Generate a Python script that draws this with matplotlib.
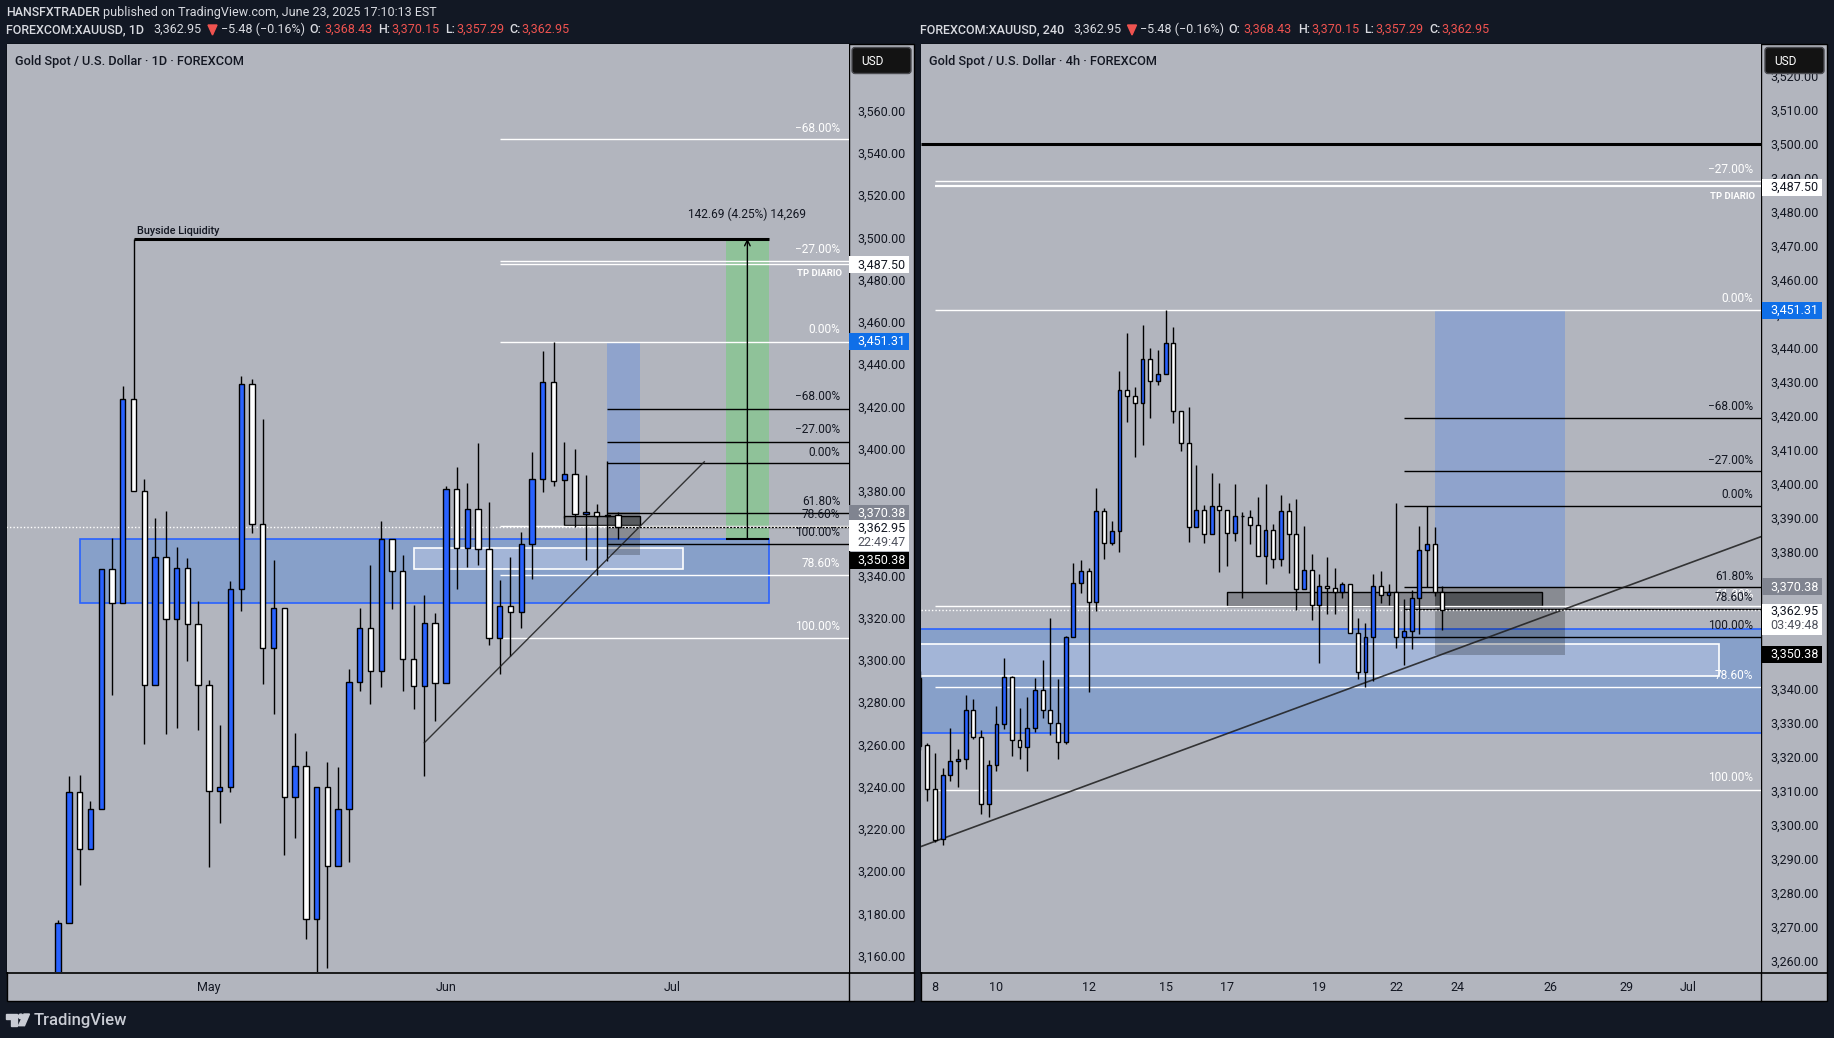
import matplotlib
matplotlib.use("Agg")
import matplotlib.pyplot as plt
from matplotlib.patches import Rectangle, FancyBboxPatch, Polygon, Circle

plt.rcParams['font.family'] = ['Roboto', 'DejaVu Sans']

W, H = 1834, 1038

#----- daily candles (left pane)
d_open = [3130.0, 3175.4, 3237.4, 3210.4, 3229.4, 3343.0, 3326.9, 3423.5, 3379.8, 3288.0,
          3348.7, 3319.3, 3343.5, 3316.8, 3288.0, 3238.2, 3239.8, 3333.5, 3430.6, 3364.3,
          3305.6, 3324.5, 3235.0, 3249.7, 3177.3, 3239.8, 3202.7, 3229.4, 3289.5, 3315.0,
          3294.7, 3357.2, 3342.1, 3300.4, 3287.6, 3317.4, 3289.0, 3380.9, 3352.9, 3371.4,
          3352.5, 3310.3, 3325.5, 3322.6, 3354.8, 3385.6, 3431.5, 3385.0, 3387.9, 3368.9,
          3370.2, 3368.0, 3368.43]
d_close = [3175.4, 3237.4, 3210.4, 3229.4, 3343.0, 3326.9, 3423.5, 3379.8, 3288.0, 3348.7,
           3319.3, 3343.5, 3316.8, 3288.0, 3238.2, 3239.8, 3333.5, 3430.6, 3364.3, 3305.6,
           3324.5, 3235.0, 3249.7, 3177.3, 3239.8, 3202.7, 3229.4, 3289.5, 3315.0, 3294.7,
           3357.2, 3342.1, 3300.4, 3287.6, 3317.4, 3289.0, 3380.9, 3352.9, 3371.4, 3352.5,
           3310.3, 3325.5, 3322.6, 3354.8, 3385.6, 3431.5, 3384.5, 3387.9, 3368.9, 3370.2,
           3368.0, 3368.5, 3362.95]
d_high = [3176.7, 3245.3, 3245.6, 3233.4, 3343.0, 3357.8, 3429.8, 3423.5, 3385.8, 3367.0,
          3370.3, 3353.4, 3348.4, 3328.0, 3290.3, 3269.3, 3337.3, 3434.5, 3433.0, 3414.2,
          3347.4, 3324.5, 3265.5, 3257.0, 3239.8, 3251.8, 3249.2, 3295.8, 3324.5, 3345.0,
          3365.7, 3357.2, 3349.8, 3325.8, 3330.8, 3322.2, 3382.5, 3391.5, 3383.9, 3402.8,
          3374.8, 3338.0, 3348.7, 3360.5, 3398.4, 3446.4, 3450.5, 3403.3, 3399.8, 3387.6,
          3374.0, 3394.2, 3370.15]
d_low = [3130.0, 3175.4, 3193.5, 3210.4, 3229.4, 3283.5, 3326.9, 3379.8, 3260.0, 3288.0,
         3265.0, 3267.7, 3299.4, 3267.0, 3202.2, 3223.0, 3237.7, 3323.4, 3360.2, 3288.7,
         3274.5, 3207.9, 3215.8, 3168.1, 3148.0, 3154.4, 3202.7, 3204.6, 3285.5, 3279.2,
         3287.0, 3323.9, 3285.5, 3276.9, 3245.3, 3271.3, 3289.0, 3333.4, 3343.8, 3345.0,
         3307.3, 3293.4, 3302.1, 3315.2, 3338.4, 3379.3, 3382.5, 3367.4, 3362.8, 3347.5,
         3340.3, 3346.9, 3357.29]

#----- 4h candles (right pane)
h_open = [3343.0, 3323.3, 3310.4, 3295.7, 3314.5, 3318.6, 3319.2, 3333.6, 3325.7, 3306.0,
          3317.5, 3329.5, 3343.3, 3324.8, 3322.7, 3328.3, 3339.5, 3333.6, 3329.8, 3324.2,
          3355.0, 3370.9, 3374.4, 3365.3, 3392.1, 3382.7, 3386.2, 3427.6, 3426.0, 3423.9,
          3436.7, 3430.2, 3432.3, 3441.4, 3421.4, 3412.0, 3387.3, 3392.3, 3385.3, 3393.5,
          3392.3, 3385.6, 3390.6, 3390.3, 3387.9, 3378.8, 3386.5, 3378.0, 3392.0, 3385.3,
          3369.1, 3374.7, 3364.5, 3370.0, 3369.4, 3368.2, 3370.6, 3356.2, 3344.7, 3355.0,
          3370.0, 3367.4, 3368.2, 3355.0, 3356.8, 3366.5, 3380.6, 3382.3, 3368.43]
h_close = [3323.2, 3310.4, 3295.6, 3314.5, 3318.6, 3319.2, 3333.6, 3325.7, 3306.0, 3317.5,
           3329.5, 3343.3, 3324.8, 3322.7, 3328.3, 3339.5, 3333.6, 3329.8, 3324.2, 3355.0,
           3370.9, 3374.4, 3365.3, 3392.1, 3382.7, 3386.2, 3427.6, 3426.0, 3423.9, 3436.7,
           3430.2, 3432.3, 3441.4, 3421.4, 3412.0, 3387.3, 3392.3, 3385.3, 3393.5, 3392.3,
           3385.6, 3390.6, 3390.5, 3387.9, 3378.8, 3386.5, 3378.0, 3392.0, 3385.3, 3369.1,
           3374.7, 3364.4, 3370.0, 3369.4, 3368.2, 3370.6, 3356.2, 3344.7, 3355.0, 3370.0,
           3367.4, 3368.2, 3355.0, 3356.8, 3366.5, 3380.6, 3382.3, 3368.2, 3362.95]
h_high = [3345.0, 3324.0, 3321.1, 3316.7, 3328.3, 3322.2, 3338.0, 3336.8, 3327.8, 3318.9,
          3334.9, 3348.9, 3343.7, 3334.2, 3337.5, 3343.1, 3348.3, 3360.6, 3342.7, 3355.4,
          3376.8, 3377.7, 3375.3, 3398.9, 3393.0, 3389.2, 3433.3, 3444.4, 3428.5, 3446.7,
          3439.9, 3439.4, 3451.2, 3446.2, 3421.4, 3422.6, 3405.5, 3393.8, 3403.2, 3400.3,
          3392.3, 3400.0, 3391.7, 3392.3, 3396.1, 3400.0, 3388.2, 3396.7, 3394.4, 3395.6,
          3387.6, 3379.4, 3373.5, 3378.5, 3375.3, 3371.2, 3370.6, 3360.6, 3359.1, 3373.5,
          3374.4, 3370.6, 3394.4, 3366.2, 3368.8, 3387.6, 3393.5, 3387.3, 3370.15]
h_low = [3322.0, 3307.0, 3295.0, 3293.9, 3312.7, 3310.9, 3316.2, 3325.0, 3303.0, 3302.1,
         3315.6, 3328.2, 3320.0, 3319.4, 3315.6, 3327.3, 3331.4, 3326.2, 3319.4, 3323.8,
         3355.0, 3367.9, 3338.8, 3362.6, 3377.9, 3382.0, 3380.0, 3418.1, 3408.1, 3411.6,
         3419.3, 3429.0, 3432.3, 3417.8, 3409.6, 3383.1, 3387.3, 3382.8, 3385.3, 3374.3,
         3375.8, 3383.4, 3366.4, 3382.5, 3378.8, 3370.8, 3375.5, 3375.8, 3374.0, 3362.9,
         3369.1, 3360.2, 3347.5, 3361.7, 3361.7, 3366.6, 3356.2, 3342.9, 3340.5, 3342.1,
         3365.2, 3364.4, 3352.0, 3347.0, 3351.7, 3356.1, 3369.7, 3367.2, 3357.29]

#----- axis labels
d_ticks = list(range(3160, 3561, 20))
h_ticks = list(range(3260, 3521, 10))
d_month_pos = [14, 36, 57]
d_month_lab = ["May", "Jun", "Jul"]
h_day_pos = [2, 10, 22, 32, 40, 52, 62, 70, 82, 92, 100]
h_day_lab = ["8", "10", "12", "15", "17", "19", "22", "24", "26", "29", "Jul"]

BG = "#b2b5be"
DARK = "#121824"
BLUE = "#2962ff"
ZONE = "#87a0c9"
LIGHT = "#a3b5d7"
SHADE = "#8fa3cc"
TXT = "#d8dae0"
RED = "#ef5350"
FS = 9


def pane(x0, x1, ymin, ymax, xmin, xmax):
    ax = fig.add_axes([x0 / W, 1 - 972 / H, (x1 - x0) / W, (972 - 43.5) / H], zorder=2)
    ax.set_facecolor(BG)
    ax.set_xlim(xmin, xmax)
    ax.set_ylim(ymin, ymax)
    for s in ax.spines.values():
        s.set_visible(False)
    ax.yaxis.tick_right()
    ax.tick_params(axis='y', length=0, pad=6.3, labelsize=FS, labelcolor="#131722")
    ax.tick_params(axis='x', length=0, pad=6.5, labelsize=FS, labelcolor="#131722")
    return ax


def candles(ax, o, c, hi, lo, width):
    for i in range(len(o)):
        up = c[i] > o[i]
        ax.vlines(i, lo[i], hi[i], color="black", lw=1.0, zorder=5)
        ax.bar(i, abs(c[i] - o[i]), bottom=min(o[i], c[i]), width=width,
               color=BLUE if up else "white", edgecolor="black", lw=1.0, zorder=6)


def zone(ax, xa, xb, ya, yb, face, edge="none", alpha=1, lw=1.2, z=1):
    ax.add_patch(Rectangle((xa, ya), xb - xa, yb - ya, facecolor=face, edgecolor=edge,
                           alpha=alpha, lw=lw, zorder=z))


def level(ax, xa, xb, y, color, lw=1.0, z=2):
    ax.hlines(y, xa, xb, color=color, lw=lw, zorder=z)


def t(x, y, s, color="#131722", size=FS, ha="left", weight="normal", **kw):
    ov.text(x, y, s, color=color, fontsize=size, ha=ha, va="center", fontweight=weight, **kw)


def ypx(ax, price):
    return H - ax.transData.transform((0, price))[1] + 1


def tag(ax, xa, xb, price, s, face, color, shift=0):
    y = ypx(ax, price) + shift
    ov.add_patch(Rectangle((xa, y - 8.5), xb - xa, 17, facecolor=face, edgecolor="none", zorder=5))
    t(xa + 8.5, y, s, color=color, zorder=6)


fig = plt.figure(figsize=(W / 100, H / 100), dpi=100, facecolor=DARK)

# fondo de paneles (incluye las escalas)
bg = fig.add_axes([0, 0, 1, 1], zorder=0)
bg.set_xlim(0, W)
bg.set_ylim(H, 0)
bg.axis("off")
bg.add_patch(Rectangle((6.5, 44), 907.5, 957, facecolor=BG, edgecolor="black", lw=1))
bg.add_patch(Rectangle((920.5, 44), 906.5, 957, facecolor=BG, edgecolor="black", lw=1))
bg.plot([848.6, 848.6], [44, 1001], color="black", lw=1)
bg.plot([1761.4, 1761.4], [44, 1001], color="black", lw=1)
bg.plot([6.5, 914], [972.5, 972.5], color="black", lw=1.2)
bg.plot([920.5, 1827], [972.5, 972.5], color="black", lw=1.2)

#----- panel izquierdo
ax1 = pane(6.5, 848.6, 3152.3, 3591.8, -4.8, 73.4)
ax1.set_yticks(d_ticks)
ax1.set_yticklabels([f"{v:,.2f}" for v in d_ticks])
ax1.set_xticks(d_month_pos)
ax1.set_xticklabels(d_month_lab)

zone(ax1, 2, 66, 3326.9, 3357.2, ZONE, BLUE)
zone(ax1, 33, 58, 3343.2, 3352.9, LIGHT, "white")
zone(ax1, 62, 66, 3357.4, 3499.4, "#8fc299")
zone(ax1, 51, 54, 3369.9, 3450.5, SHADE)
zone(ax1, 51, 54, 3349.7, 3369.9, "black", alpha=0.23, z=2)
zone(ax1, 47, 54, 3363.8, 3368.0, "black", alpha=0.25, z=2)
zone(ax1, 51, 54, 3363.8, 3368.0, "black", alpha=0.12, z=2)
ax1.add_patch(Rectangle((47, 3363.8), 7, 4.2, fill=False, edgecolor="black", lw=1, zorder=2))

for y in [3546.5, 3488.7, 3487.2, 3450.5, 3363.4, 3340.1, 3310.3]:
    level(ax1, 41, 73.4, y, "white", z=3)
for y in [3419.0, 3403.4, 3393.0, 3369.4, 3363.0, 3354.8]:
    level(ax1, 51, 73.4, y, "black", z=3)

level(ax1, 7, 66, 3499.4, "black", lw=2.2, z=7)
ax1.vlines(7, 3423.5, 3499.4, color="black", lw=1, zorder=4)
level(ax1, 62, 66, 3357.4, "black", lw=1.5, z=4)
ax1.annotate("", xy=(64, 3499.4), xytext=(64, 3357.4), zorder=7,
             arrowprops=dict(arrowstyle="->", color="black", lw=1, shrinkA=0, shrinkB=0))
ax1.plot([34, 60], [3260.8, 3393.8], color="#1c1c1c", lw=1, alpha=0.85, zorder=7)
ax1.hlines(3362.95, -4.8, 73.4, color="white", lw=1, linestyles=(0, (1, 1.5)), zorder=4)
candles(ax1, d_open, d_close, d_high, d_low, 0.5)

#----- panel derecho
ax2 = pane(920.5, 1761.4, 3256.7, 3529.4, 0.12, 109.5)
ax2.set_yticks(h_ticks)
ax2.set_yticklabels([f"{v:,.2f}" for v in h_ticks])
ax2.set_xticks(h_day_pos)
ax2.set_xticklabels(h_day_lab)

zone(ax2, -3, 115, 3327.0, 3357.3, ZONE, BLUE)
zone(ax2, -3, 104, 3343.6, 3352.9, LIGHT, "white")
zone(ax2, 67, 84, 3369.9, 3451.1, SHADE)
zone(ax2, 67, 84, 3349.7, 3369.9, "black", alpha=0.23, z=2)
zone(ax2, 40, 81, 3364.3, 3368.2, "black", alpha=0.25, z=2)
zone(ax2, 67, 81, 3364.3, 3368.2, "black", alpha=0.2, z=2)
ax2.add_patch(Rectangle((40, 3364.3), 41, 3.9, fill=False, edgecolor="black", lw=1, zorder=2))

for y in [3489.0, 3451.1, 3364.1, 3340.3, 3310.3]:
    level(ax2, 2, 109.5, y, "white", z=3)
level(ax2, 2, 109.5, 3487.5, "white", lw=1.6, z=3)
for y in [3419.3, 3403.8, 3393.5, 3369.7, 3363.2, 3355.0]:
    level(ax2, 63, 109.5, y, "black", z=3)
level(ax2, 0.12, 109.5, 3500, "black", lw=2.2, z=3)
ax2.plot([0.12, 109.5], [3293.5, 3384.6], color="#1c1c1c", lw=1.2, alpha=0.85, zorder=4)
ax2.hlines(3362.95, 0.12, 109.5, color="white", lw=1, linestyles=(0, (1, 1.5)), zorder=4)
candles(ax2, h_open, h_close, h_high, h_low, 0.5)

#----- textos y etiquetas sobre todo
ov = fig.add_axes([0, 0, 1, 1], zorder=10)
ov.set_xlim(0, W)
ov.set_ylim(H, 0)
ov.axis("off")
ov.patch.set_alpha(0)

t(6.5, 12.7, "HANSFXTRADER", color=TXT, size=8.9, weight="medium")
t(102.7, 12.7, "published on TradingView.com, June 23, 2025 17:10:13 EST", color=TXT, size=9.0)


def header(off, name, o_shift):
    t(off + 6.5, 29.7, name, color=TXT, size=9.0, weight="medium")
    t(off + 153.8 + o_shift, 29.7, "3,362.95", color=TXT, size=9.0)
    x = off + 208 + o_shift
    ov.add_patch(Polygon([(x, 25), (x + 9, 25), (x + 4.5, 35)], color=RED))
    t(off + 221 + o_shift, 29.7, "\u22125.48 (\u22120.16%)", color=TXT, size=9.0)
    for lab, lx, val, vx in [("O:", 309, "3,368.43", 324), ("H:", 378.5, "3,370.15", 391.4),
                             ("L:", 444.8, "3,357.29", 456), ("C:", 509.4, "3,362.95", 521.7)]:
        t(off + lx + o_shift, 29.7, lab, color=TXT, size=9.0, weight="medium")
        t(off + vx + o_shift, 29.7, val, color=RED, size=9.0)


header(0, "FOREXCOM:XAUUSD, 1D", 0)
header(914, "FOREXCOM:XAUUSD, 240", 5.5)

t(14.7, 61.3, "Gold Spot / U.S. Dollar \u00b7 1D \u00b7 FOREXCOM", size=9.2, weight="medium")
t(928.7, 61.3, "Gold Spot / U.S. Dollar \u00b7 4h \u00b7 FOREXCOM", size=9.2, weight="medium")
t(136.7, 230.7, "Buyside Liquidity", size=7.8, weight="medium")
t(747, 214.7, "142.69 (4.25%) 14,269", size=8.6, ha="center")
t(840.4, 128, "\u221268.00%", color="white", size=8.6, ha="right")
t(840.4, 249.7, "\u221227.00%", color="white", size=8.6, ha="right")
t(842, 273.7, "TP DIARIO", color="white", size=6.8, ha="right", weight="bold")
t(840.4, 329.7, "0.00%", color="white", size=8.6, ha="right")
t(840.4, 563.3, "78.60%", color="white", size=8.6, ha="right")
t(840.4, 626.7, "100.00%", color="white", size=8.6, ha="right")
for yy, s in [(396.7, "\u221268.00%"), (429.7, "\u221227.00%"), (452, "0.00%"),
              (501.7, "61.80%"), (515, "78.60%"), (532.7, "100.00%")]:
    t(840.4, yy, s, size=8.6, ha="right")

t(1753.2, 169.7, "\u221227.00%", color="white", size=8.6, ha="right")
t(1755, 196.7, "TP DIARIO", color="white", size=6.8, ha="right", weight="bold")
t(1753.2, 298.7, "0.00%", color="white", size=8.6, ha="right")
t(1753.2, 594, "61.80%", color="white", size=8.6, ha="right")
t(1753.2, 675.7, "78.60%", color="white", size=8.6, ha="right")
t(1753.2, 777.7, "100.00%", color="white", size=8.6, ha="right")
for yy, s in [(406.7, "\u221268.00%"), (460, "\u221227.00%"), (494.7, "0.00%"),
              (576, "61.80%"), (597.7, "78.60%"), (625.7, "100.00%")]:
    t(1753.2, yy, s, size=8.6, ha="right")

for ax, xa, xb, clock, low_shift in [(ax1, 849, 909, "22:49:47", 6), (ax2, 1762, 1822.4, "03:49:48", 0)]:
    tag(ax, xa, xb, 3487.50, "3,487.50", "white", "#131722")
    tag(ax, xa, xb, 3451.31, "3,451.31", "#0f6fe8", "white")
    tag(ax, xa, xb, 3370.38, "3,370.38", "#808490", "white", shift=1)
    tag(ax, xa, xb, 3350.38, "3,350.38", "black", "white", shift=low_shift)
    y = ypx(ax, 3362.95)
    ov.add_patch(Rectangle((xa, y - 7.5), xb - xa, 31, facecolor="white", edgecolor="none", zorder=5))
    t(xa + 8.5, y, "3,362.95", zorder=6)
    t(xa + 8.5, y + 14.5, clock, color="#50535e", zorder=6)

for xa in [852, 1765]:
    ov.add_patch(FancyBboxPatch((xa + 2, 49.5), 55, 22, boxstyle="round,pad=2,rounding_size=3",
                                facecolor="#131313", edgecolor="#4a4b50", lw=1, zorder=7))
    t(xa + 9, 61.7, "USD", color="white", size=8.6, zorder=8)

# logo
LOGO = "#c9ccd4"
ov.add_patch(Polygon([(6, 1014), (17, 1014), (17, 1025.7), (11, 1025.7), (11, 1019), (6, 1019)], color=LOGO))
ov.add_patch(Circle((20.8, 1016.4), 2.3, color=LOGO))
ov.add_patch(Polygon([(24, 1014), (29.5, 1014), (24.5, 1025.7), (18.5, 1025.7)], color=LOGO))
t(34, 1020, "TradingView", color=LOGO, size=12.0, weight="medium")

fig.savefig("out.png", dpi=100, facecolor=DARK)
